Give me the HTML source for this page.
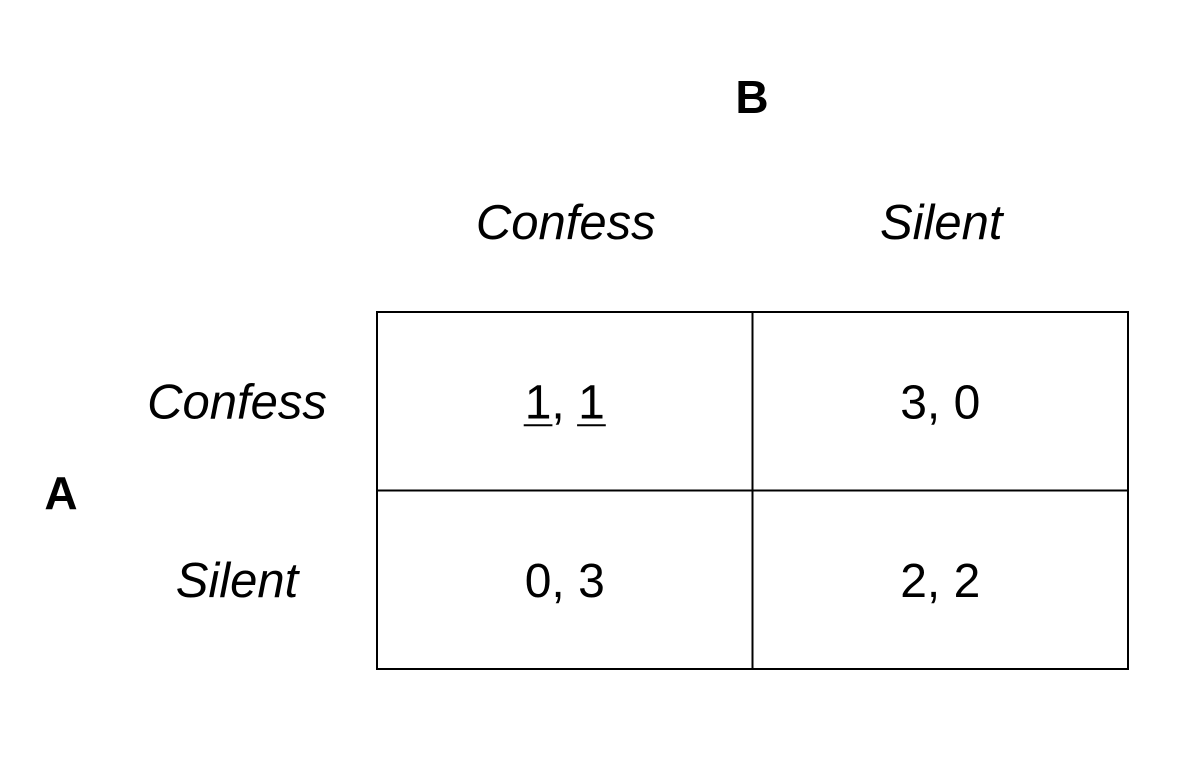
<!DOCTYPE html>
<html><head><meta charset="utf-8"><style>
html,body{margin:0;padding:0;background:#fff;}
svg{display:block;}
text{font-family:"Liberation Sans",Arial,sans-serif;fill:#000;}
</style></head><body>
<svg id="chart" width="1182" height="762" viewBox="0 0 1182 762"></svg>
<script>
const colPlayer = "B";
const rowPlayer = "A";
const colStrategies = ["Confess", "Silent"];
const rowStrategies = ["Confess", "Silent"];
const payoffA = [[1, 3], [0, 2]];
const payoffB = [[1, 0], [3, 2]];
const bestA = [[true, false], [false, false]];
const bestB = [[true, false], [false, false]];

const NS = "http://www.w3.org/2000/svg";
const svg = document.getElementById("chart");
const gx0 = 377, gx1 = 1128, gy0 = 312, gy1 = 669;
const cw = (gx1 - gx0) / colStrategies.length, ch = (gy1 - gy0) / rowStrategies.length;
function mk(tag, attrs, parent) {
  const e = document.createElementNS(NS, tag);
  for (const k in attrs) e.setAttribute(k, attrs[k]);
  (parent || svg).appendChild(e);
  return e;
}
let t = mk("text", {x: 752, y: 113, "font-size": 46, "font-weight": "bold", "text-anchor": "middle"});


t.textContent = colPlayer;
t = mk("text", {x: 61, y: 509, "font-size": 46, "font-weight": "bold", "text-anchor": "middle"});


t.textContent = rowPlayer;
colStrategies.forEach((s, j) => {
  const e = mk("text", {x: gx0 + cw * (j + 0.5) + 1, y: 239, "font-size": 49, "font-style": "italic", "text-anchor": "middle"});
  
  
  e.textContent = s;
});
rowStrategies.forEach((s, i) => {
  const e = mk("text", {x: 237, y: gy0 + ch * (i + 0.5) + 17, "font-size": 49, "font-style": "italic", "text-anchor": "middle"});
  
  
  e.textContent = s;
});
for (let i = 0; i < rowStrategies.length; i++) {
  for (let j = 0; j < colStrategies.length; j++) {
    const r = mk("rect", {x: gx0 + cw * j, y: gy0 + ch * i, width: cw, height: ch, fill: "none", stroke: "#000", "stroke-width": 2});
    
    
    const cx = gx0 + cw * (j + 0.5), cy = gy0 + ch * (i + 0.5) + 17;
    const tx = mk("text", {x: cx, y: cy, "font-size": 48, "text-anchor": "middle"});
    
    
    const a = mk("tspan", {}, tx); a.textContent = payoffA[i][j];
    mk("tspan", {}, tx).textContent = ", ";
    const b = mk("tspan", {}, tx); b.textContent = payoffB[i][j];
    [[a, bestA[i][j]], [b, bestB[i][j]]].forEach(([sp, u]) => {
      if (!u) return;
      const bb = sp.getBBox();
      const l = mk("rect", {x: bb.x - 1, y: cy + 6, width: bb.width + 2, height: 2, fill: "#000"});
      
      
    });
  }
}
</script>
</body></html>
